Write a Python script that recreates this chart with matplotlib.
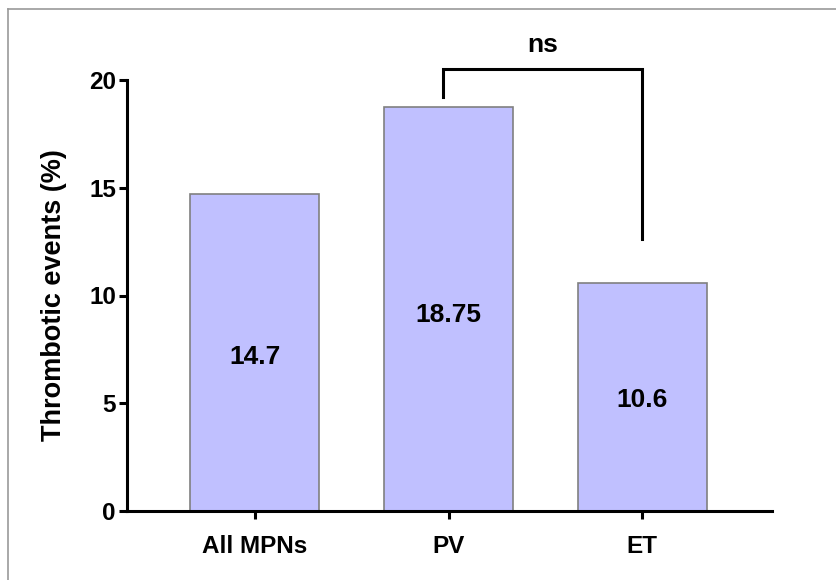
import matplotlib
matplotlib.use("Agg")
import matplotlib.pyplot as plt
from matplotlib.lines import Line2D

# data
groups = ["All MPNs", "PV", "ET"]
rates = [14.7, 18.75, 10.6]
rate_labels = ["14.7", "18.75", "10.6"]
yticks = [0, 5, 10, 15, 20]

plt.rcParams['font.family'] = ['Liberation Sans', 'DejaVu Sans']
plt.rcParams['font.weight'] = 'bold'

fig = plt.figure(figsize=(8.37, 5.8), dpi=100)
ax = fig.add_axes([127/837, 1-511/580, (772-127)/837, (511-80)/580])

x = list(range(len(groups)))
ax.bar(x, rates, width=0.667, color='#c0c0ff', edgecolor='#808080', linewidth=1.2, zorder=2)

for xi, v, lab in zip(x, rates, rate_labels):
    ax.text(xi, v*0.485, lab, ha='center', va='center', fontsize=19, fontweight='bold')

ax.set_xlim(-0.66, 2.67)
ax.set_ylim(0, 20)
ax.set_yticks(yticks)
ax.set_xticks(x)
ax.set_xticklabels(groups)
ax.set_ylabel("Thrombotic events (%)", fontsize=19.5, fontweight='bold', labelpad=16)

for s in ['top', 'right']:
    ax.spines[s].set_visible(False)
for s in ['left', 'bottom']:
    ax.spines[s].set_linewidth(2.2)
ax.tick_params(axis='both', width=2.2, length=6, labelsize=17.5, direction='out')
ax.tick_params(axis='x', pad=11)
ax.tick_params(axis='y', pad=2)
for t in ax.get_xticklabels() + ax.get_yticklabels():
    t.set_fontweight('bold')

# significance bracket PV vs ET
bx = [0.97, 0.97, 2.0, 2.0]
by = [19.2, 20.5, 20.5, 12.6]
ax.plot(bx, by, color='black', lw=2.2, clip_on=False, solid_joinstyle='miter')
ax.text(1.485, 21.05, "ns", ha='center', va='bottom', fontsize=19, fontweight='bold')

# thin grey frame at top and left of the panel
fig.add_artist(Line2D([8/837, 1], [1-9/580, 1-9/580], color='#999999', lw=1.2))
fig.add_artist(Line2D([8/837, 8/837], [0, 1-9/580], color='#999999', lw=1.2))

fig.savefig("out.png", dpi=100)
